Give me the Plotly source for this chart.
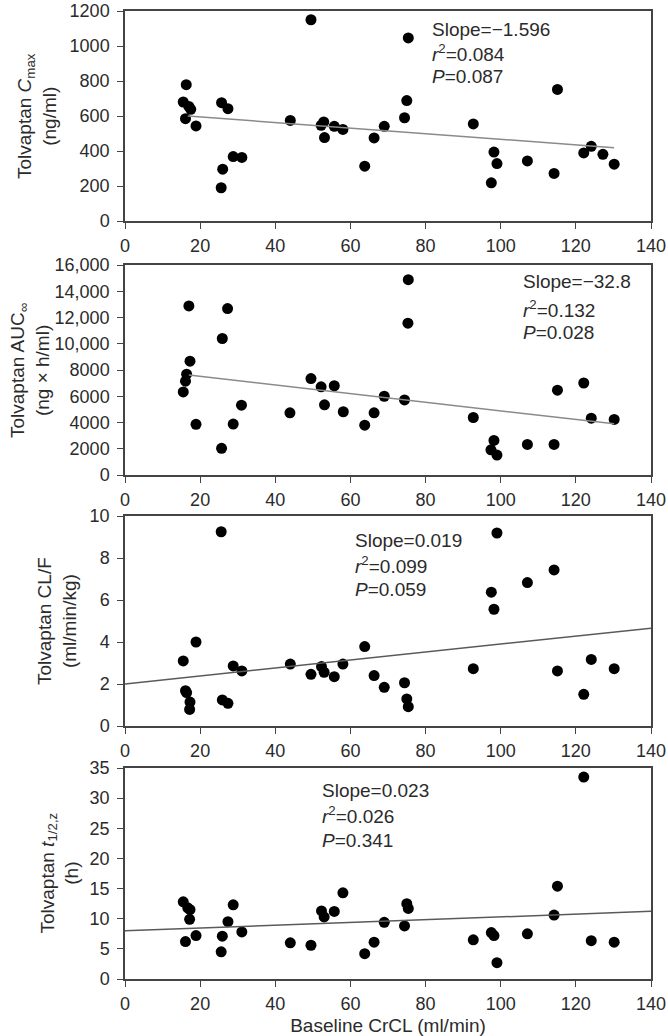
import plotly.graph_objects as go
from plotly.subplots import make_subplots

# ---- data ----
crcl_cmax = [15.5, 16.3, 16.1, 17.0, 17.5, 18.9, 25.7, 26.0, 25.6, 27.4, 28.8, 31.1, 44.0, 49.5,
             52.2, 52.9, 53.1, 55.7, 58.0, 63.8, 66.3, 69.0, 74.4, 75.0, 75.4, 92.7, 97.5, 98.2,
             99.0, 107.1, 114.2, 115.1, 122.1, 124.1, 127.2, 130.2]
cmax = [680, 779, 585, 655, 638, 543, 676, 296, 190, 642, 368, 363, 575, 1150,
        547, 566, 477, 541, 523, 313, 475, 541, 590, 688, 1046, 555, 218, 394,
        328, 343, 272, 752, 389, 427, 381, 325]

crcl_auc = [15.5, 16.1, 16.4, 17.0, 17.3, 18.9, 25.7, 25.9, 27.3, 28.8, 31.0, 43.9, 49.5, 52.2,
            53.1, 55.7, 58.1, 63.8, 66.3, 69.0, 74.4, 75.3, 75.4, 92.7, 98.2, 97.4, 99.0, 107.1,
            114.2, 115.1, 122.1, 124.1, 130.2]
auc = [6330, 7150, 7680, 12880, 8670, 3860, 2030, 10400, 12680, 3880, 5320, 4740, 7350, 6720,
       5350, 6800, 4820, 3800, 4740, 6000, 5720, 11570, 14880, 4380, 2630, 1920, 1520, 2330,
       2330, 6460, 7010, 4330, 4230]

crcl_cl = [15.5, 16.1, 16.4, 17.3, 17.2, 18.9, 25.6, 25.9, 27.4, 28.8, 31.1, 44.0, 49.5, 52.3,
           53.0, 55.7, 58.0, 63.8, 66.3, 69.0, 74.4, 75.0, 75.4, 92.7, 97.5, 98.2, 99.0, 107.1,
           114.2, 115.1, 122.1, 124.1, 130.2]
clf = [3.10, 1.68, 1.59, 1.14, 0.79, 4.00, 9.25, 1.24, 1.08, 2.86, 2.62, 2.95, 2.46, 2.83,
       2.56, 2.35, 2.95, 3.78, 2.40, 1.84, 2.06, 1.29, 0.92, 2.73, 6.37, 5.56, 9.19, 6.83,
       7.43, 2.62, 1.51, 3.17, 2.73]

crcl_thalf = [15.5, 16.1, 16.7, 17.3, 17.2, 18.9, 25.6, 25.9, 27.4, 28.8, 31.1, 44.0, 49.5, 52.3,
              53.0, 55.7, 58.0, 63.8, 66.3, 69.0, 74.4, 75.0, 75.4, 92.7, 97.5, 98.2, 99.0, 107.1,
              114.2, 115.1, 122.1, 124.1, 130.2]
thalf = [12.8, 6.2, 11.8, 11.5, 9.9, 7.2, 4.5, 7.1, 9.5, 12.3, 7.8, 6.0, 5.6, 11.3,
         10.3, 11.2, 14.3, 4.2, 6.1, 9.4, 8.8, 12.5, 11.7, 6.5, 7.7, 7.2, 2.7, 7.5,
         10.6, 15.4, 33.5, 6.35, 6.1]

# regression fits: intercept, slope, x-span of drawn line
fit_intercepts = [626.7, 8170, 2.0, 8.0]
fit_slopes = [-1.596, -32.8, 0.019, 0.023]
fit_spans = [(16.7, 130.2), (17.0, 130.2), (0, 140), (0, 140)]

slope_labels = ["Slope=\u22121.596", "Slope=\u221232.8", "Slope=0.019", "Slope=0.023"]
r2_labels = ["0.084", "0.132", "0.099", "0.026"]
p_labels = ["0.087", "0.028", "0.059", "0.341"]

y_titles = ["Tolvaptan <i>C</i><sub>max</sub><br>(ng/ml)",
            "Tolvaptan AUC<sub>\u221e</sub><br>(ng \u00d7 h/ml)",
            "Tolvaptan CL/F<br>(ml/min/kg)",
            "Tolvaptan <i>t</i><sub>1/2,z</sub><br>(h)"]

y_ranges = [(0, 1200), (0, 16000), (0, 10), (0, 35)]
y_tickvals = [[0, 200, 400, 600, 800, 1000, 1200],
              [0, 2000, 4000, 6000, 8000, 10000, 12000, 14000, 16000],
              [0, 2, 4, 6, 8, 10],
              [0, 5, 10, 15, 20, 25, 30, 35]]
y_ticktext = [["0", "200", "400", "600", "800", "1000", "1200"],
              ["0", "2000", "4000", "6000", "8000", "10,000", "12,000", "14,000", "16,000"],
              ["0", "2", "4", "6", "8", "10"],
              ["0", "5", "10", "15", "20", "25", "30", "35"]]
x_ticks = [0, 20, 40, 60, 80, 100, 120, 140]

# ---- layout geometry ----
W, H = 668, 1036
ML, MR, MT, MB = 125, 17, 11, 57
panel_px = [(11, 221), (265, 475), (516, 726), (768, 979)]  # top, bottom pixel rows
stat_pos = [(81.2, [1095, 958, 825]), (105.3, [14734, 12658, 10835]),
            (60.7, [8.83, 7.67, 6.48]), (51.8, [31.2, 27.2, 23.0])]
ytitle_px = [37, 30, 57, 59]

FONT = "Liberation Sans, Arial, Helvetica, sans-serif"
INK = "#2b2b2b"

fig = make_subplots(rows=4, cols=1)
plot_h = H - MT - MB
plot_w = W - ML - MR

xs_list = [crcl_cmax, crcl_auc, crcl_cl, crcl_thalf]
ys_list = [cmax, auc, clf, thalf]
line_colors = ["#8a8a8a", "#8a8a8a", "#5a5a5a", "#5a5a5a"]

for i in range(4):
    r = i + 1
    fig.add_trace(go.Scatter(x=xs_list[i], y=ys_list[i], mode="markers",
                             marker=dict(color="#000000", size=11, line=dict(width=0)),
                             showlegend=False, hoverinfo="skip"), row=r, col=1)
    x0, x1 = fit_spans[i]
    a, b = fit_intercepts[i], fit_slopes[i]
    fig.add_trace(go.Scatter(x=[x0, x1], y=[a + b * x0, a + b * x1], mode="lines",
                             line=dict(color=line_colors[i], width=1.5),
                             showlegend=False, hoverinfo="skip"), row=r, col=1)

    top, bot = panel_px[i]
    dom = [(H - MB - bot) / plot_h, (H - MB - top) / plot_h]
    axis_common = dict(showline=True, linecolor="#444444", linewidth=1.5, mirror=True,
                       showgrid=False, zeroline=False, ticks="outside", ticklen=6,
                       tickwidth=1.3, tickcolor="#444444",
                       tickfont=dict(family=FONT, size=18, color=INK))
    fig.update_yaxes(domain=dom, range=list(y_ranges[i]), tickvals=y_tickvals[i],
                     ticktext=y_ticktext[i], ticklabelstandoff=4, **axis_common, row=r, col=1)
    fig.update_xaxes(range=[0, 140], tickvals=x_ticks, ticklabelstandoff=2,
                     **axis_common, row=r, col=1)

    xr = "x" if i == 0 else f"x{r}"
    yr = "y" if i == 0 else f"y{r}"
    sx, sys_ = stat_pos[i]
    texts = [slope_labels[i], f"<i>r</i><sup>2</sup>={r2_labels[i]}", f"<i>P</i>={p_labels[i]}"]
    for t, yy in zip(texts, sys_):
        fig.add_annotation(x=sx, y=yy, xref=xr, yref=yr, text=t, showarrow=False,
                           xanchor="left", yanchor="middle",
                           font=dict(family=FONT, size=19, color=INK))

    # y-axis title
    fig.add_annotation(x=(ytitle_px[i] - ML) / plot_w, y=(dom[0] + dom[1]) / 2,
                       xref="paper", yref="paper", text=y_titles[i], showarrow=False,
                       textangle=-90, xanchor="center", yanchor="middle",
                       font=dict(family=FONT, size=19, color=INK))

fig.update_xaxes(title=dict(text="Baseline CrCL (ml/min)",
                            font=dict(family=FONT, size=19, color=INK), standoff=6),
                 row=4, col=1)

fig.update_layout(width=W, height=H, margin=dict(l=ML, r=MR, t=MT, b=MB, autoexpand=False),
                  paper_bgcolor="white", plot_bgcolor="white",
                  font=dict(family=FONT, color=INK))

fig.write_html("out.html", config={"displayModeBar": False},
               post_script="document.body.style.margin='0';document.body.style.padding='0';")
